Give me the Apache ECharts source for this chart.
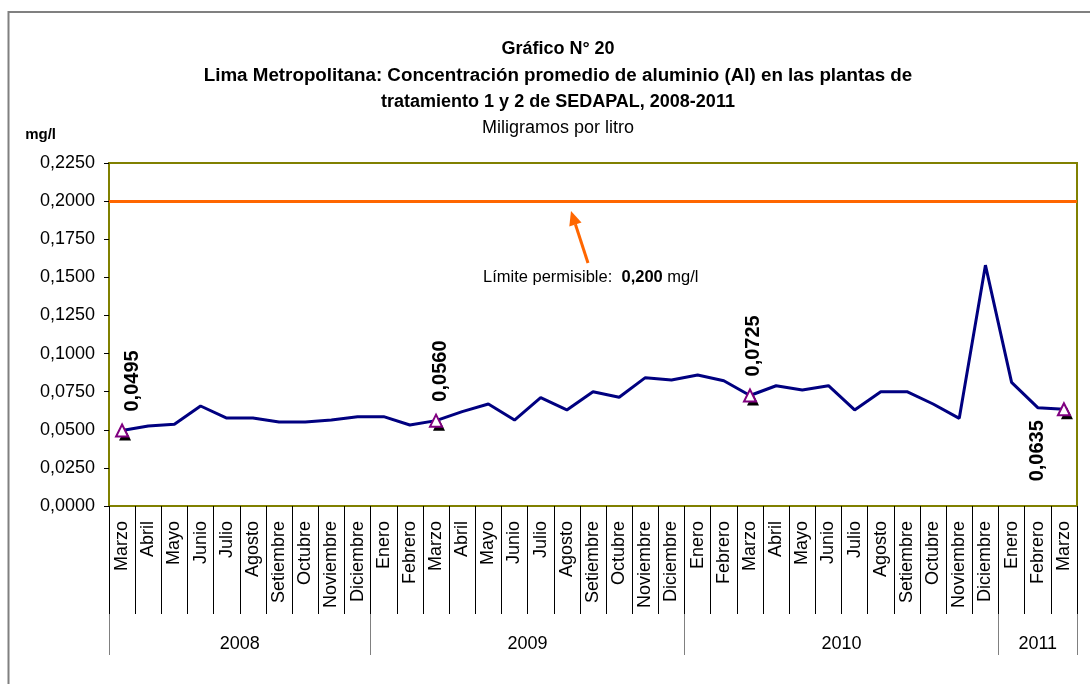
<!DOCTYPE html>
<html>
<head>
<meta charset="utf-8">
<script src="https://cdn.jsdelivr.net/npm/echarts@6/dist/echarts.min.js"></script>
<style>
  html, body { margin: 0; padding: 0; background: #fff; }
  #chart { width: 1090px; height: 684px; }
</style>
</head>
<body>
<div id="chart"></div>
<script>
// meses (marzo 2008 - marzo 2011)
const months = [
    'Marzo', 'Abril', 'Mayo', 'Junio', 'Julio', 'Agosto', 'Setiembre', 'Octubre', 'Noviembre', 'Diciembre',
    'Enero', 'Febrero', 'Marzo', 'Abril', 'Mayo', 'Junio', 'Julio', 'Agosto', 'Setiembre', 'Octubre', 'Noviembre', 'Diciembre',
    'Enero', 'Febrero', 'Marzo', 'Abril', 'Mayo', 'Junio', 'Julio', 'Agosto', 'Setiembre', 'Octubre', 'Noviembre', 'Diciembre',
    'Enero', 'Febrero', 'Marzo'
];
const years = ['2008', '2009', '2010', '2011'];
const monthsPerYear = [10, 12, 12, 3];

// concentración promedio de aluminio, mg/l
const aluminio = [
    0.0495, 0.0525, 0.0536, 0.0656, 0.0577, 0.0577, 0.0551, 0.0551, 0.0564, 0.0586,
    0.0586, 0.0531, 0.0560, 0.0619, 0.0669, 0.0564, 0.0711, 0.0630, 0.0750, 0.0713, 0.0842, 0.0827,
    0.0859, 0.0822, 0.0725, 0.0789, 0.0761, 0.0789, 0.0630, 0.0750, 0.0750, 0.0669, 0.0575, 0.1580,
    0.0811, 0.0645, 0.0635
];
// puntos marcados (índices de marzo)
const marcados = [0, 12, 24, 36];
const limite = 0.2;

const FONT = 'Liberation Sans, Arial, sans-serif';
const fmt = v => v.toFixed(4).replace('.', ',');

// límites y centros de los grupos de años
const yearBounds = [0];
monthsPerYear.forEach(n => yearBounds.push(yearBounds[yearBounds.length - 1] + n));
const yearCenters = years.map((y, i) => (yearBounds[i] + yearBounds[i + 1]) / 2);

// desplazamiento horizontal de cada etiqueta (px)
const labelShift = [10, 4, 4, -26];

const markerData = aluminio.map((v, i) => {
    const k = marcados.indexOf(i);
    if (k < 0) return null;
    const last = i === aluminio.length - 1;
    return {
        value: v,
        label: last ? {
            show: true, position: 'bottom', distance: 4, rotate: 90,
            align: 'right', verticalAlign: 'middle', offset: [0, labelShift[k]]
        } : {
            show: true, position: 'top', distance: 12, rotate: 90,
            align: 'left', verticalAlign: 'middle', offset: [0, labelShift[k]]
        }
    };
});
const shadowData = aluminio.map((v, i) => marcados.indexOf(i) < 0 ? null : v);

const chart = echarts.init(document.getElementById('chart'));
const option = {
    animation: false,
    textStyle: { fontFamily: FONT },
    title: {
        text: '{t|Gráfico N° 20}\n{w|Lima Metropolitana: Concentración promedio de aluminio (Al) en las plantas de}\n{t|tratamiento 1 y 2 de SEDAPAL, 2008-2011}',
        subtext: 'Miligramos por litro',
        left: 558,
        top: 36,
        padding: 0,
        textAlign: 'center',
        itemGap: 3,
        textStyle: {
            fontFamily: FONT, fontSize: 18, fontWeight: 'bold', color: '#000', lineHeight: 26.5,
            rich: {
                t: { fontFamily: FONT, fontSize: 18, fontWeight: 'bold', color: '#000', lineHeight: 26.5 },
                w: { fontFamily: FONT, fontSize: 18.8, fontWeight: 'bold', color: '#000', lineHeight: 26.5 }
            }
        },
        subtextStyle: { fontFamily: FONT, fontSize: 18, color: '#000', lineHeight: 20 }
    },
    grid: {
        left: 109, right: 13, top: 163, bottom: 178,
        show: true, borderColor: '#808000', borderWidth: 2, backgroundColor: '#fff'
    },
    xAxis: [{
        type: 'category',
        data: months,
        boundaryGap: true,
        axisLine: { lineStyle: { color: '#808000', width: 2 } },
        axisTick: { show: true, interval: 0, length: 108, lineStyle: { color: '#000', width: 1 } },
        axisLabel: { interval: 0, rotate: 90, margin: 15, fontSize: 18, color: '#000', fontFamily: FONT },
        splitLine: { show: false }
    }, {
        type: 'value',
        position: 'bottom',
        offset: 108,
        min: 0,
        max: months.length,
        axisLine: { show: false },
        axisTick: { show: true, length: 41, customValues: yearBounds, lineStyle: { color: '#808080', width: 1 } },
        axisLabel: {
            customValues: yearCenters, margin: 21, fontSize: 18, color: '#000', fontFamily: FONT,
            formatter: v => years[yearCenters.indexOf(v)] || ''
        },
        splitLine: { show: false }
    }],
    yAxis: {
        type: 'value',
        min: 0,
        max: 0.225,
        interval: 0.025,
        name: 'mg/l',
        nameLocation: 'end',
        nameGap: 21,
        nameTextStyle: { fontFamily: FONT, fontSize: 15, fontWeight: 'bold', color: '#000', align: 'right', padding: [0, 53, 0, 0] },
        axisLine: { show: true, lineStyle: { color: '#808000', width: 2 } },
        axisTick: { show: true, length: 5, lineStyle: { color: '#000' } },
        axisLabel: { margin: 14, fontSize: 18, color: '#000', fontFamily: FONT, formatter: fmt },
        splitLine: { show: false }
    },
    series: [{
        type: 'line',
        data: aluminio,
        symbol: 'none',
        lineStyle: { color: '#000080', width: 3 },
        z: 3,
        markLine: {
            silent: true,
            symbol: 'none',
            label: { show: false },
            lineStyle: { color: '#FF6600', width: 3, type: 'solid' },
            data: [{ yAxis: limite }]
        }
    }, {
        type: 'scatter',
        data: shadowData,
        symbol: 'triangle',
        symbolSize: 12,
        symbolOffset: [3, 4],
        itemStyle: { color: '#000', opacity: 1 },
        z: 4
    }, {
        type: 'scatter',
        data: markerData,
        symbol: 'triangle',
        symbolSize: 12,
        itemStyle: { color: '#fff', borderColor: '#800080', borderWidth: 2, opacity: 1 },
        label: {
            fontFamily: FONT, fontSize: 20, fontWeight: 'bold', color: '#000',
            formatter: p => fmt(p.value)
        },
        z: 5
    }],
    graphic: [{
        type: 'rect',
        shape: { x: 8.5, y: 12, width: 1200, height: 800 },
        style: { fill: 'none', stroke: '#808080', lineWidth: 2 },
        silent: true,
        z: -10
    }, {
        type: 'line',
        shape: { x1: 588, y1: 263, x2: 575.4, y2: 224.3 },
        style: { stroke: '#FF6600', lineWidth: 3 },
        z: 10
    }, {
        type: 'polygon',
        shape: { points: [[571, 211], [581.5, 222.4], [569.3, 226.4]] },
        style: { fill: '#FF6600' },
        z: 10
    }, {
        type: 'text',
        x: 483,
        y: 277,
        style: {
            text: '{a|Límite permisible:  }{b|0,200}{a| mg/l}',
            verticalAlign: 'middle',
            rich: {
                a: { fontFamily: FONT, fontSize: 16.5, color: '#000' },
                b: { fontFamily: FONT, fontSize: 16.5, fontWeight: 'bold', color: '#000' }
            }
        },
        z: 10
    }]
};
chart.setOption(option);
</script>
</body>
</html>
